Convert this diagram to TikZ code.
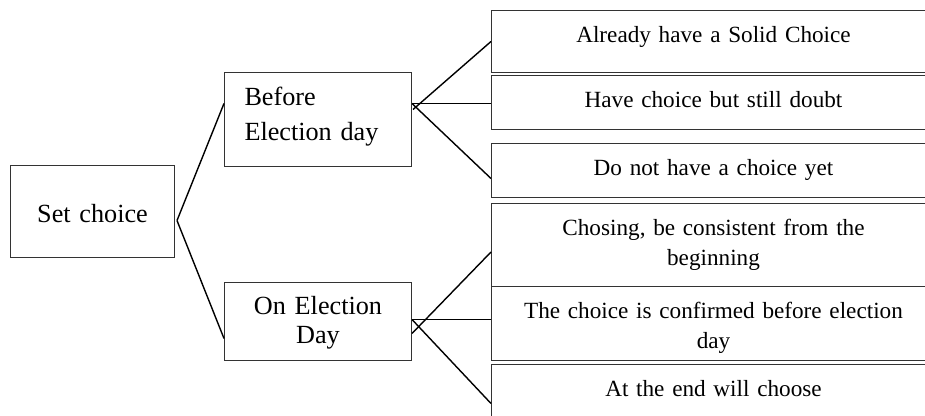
\documentclass[tikz,border=0pt]{standalone}
\usepackage{fontspec}
\setmainfont{Liberation Serif}
\usetikzlibrary{positioning, calc}

\begin{document}
\begin{tikzpicture}[
  x=0.5pt, y=-0.5pt,
  box/.style    = {draw=black!80, line width=0.5pt, inner sep=0pt,
                   anchor=north west},
  stage/.style  = {box, text width=93.5pt,
                   font=\fontsize{13.1}{17.5}\selectfont},
  choice/.style = {box, text width=222pt, align=center, text height=16pt,
                   font=\fontsize{11.6}{15}\selectfont},
  link/.style   = {line width=0.7pt, black},
]
\useasboundingbox (0,0) rectangle (925,416);
\clip (0,0) rectangle (925,416);

\node[box, text width=82pt, align=center, text height=28.5pt, text depth=17.5pt,
      font=\fontsize{13.1}{17.5}\selectfont] (setc) at (10,165) {Set choice};

\node[stage, align=left, inner xsep=10pt, text width=73.5pt,
      text height=16.5pt, text depth=30.5pt] (bef) at (224,72)
     {Before\\Election day};
\node[stage, align=center, text height=16pt, text depth=23pt,
      font=\fontsize{13.1}{14.5}\selectfont] (onday) at (224,282)
     {On Election\\Day};

\node[choice, text depth=15pt]   (r1) at (491,10)  {Already have a Solid Choice};
\node[choice, text depth=11pt]   (r2) at (491,75)  {Have choice but still doubt};
\node[choice, text depth=11pt]   (r3) at (491,143) {Do not have a choice yet};
\node[choice, text depth=25.5pt] (r4) at (491,203) {Chosing, be consistent from the\\beginning};
\node[choice, text depth=21pt]   (r5) at (491,286) {The choice is confirmed before election\\day};
\node[choice, text depth=22pt]   (r6) at (491,364) {At the end will choose};

\draw[link] ($(setc.east)+(2,9)$) -- ($(bef.west)+(0,-16)$);
\draw[link] ($(setc.east)+(2,9)$) -- ($(onday.west)+(0,17)$);

\draw[link] ($(bef.east)+(1,-10)$) -- (r1.west);
\draw[link] ($(bef.east)+(0,-16)$) -- ($(r2.west)+(0,1)$);
\draw[link] ($(bef.east)+(0,-16)$) -- ($(r3.west)+(0,8)$);

\draw[link] ($(onday.east)+(0,12)$) -- ($(r4.west)+(0,7)$);
\draw[link] ($(onday.east)+(0,-2)$) -- ($(r5.west)+(0,-4)$);
\draw[link] ($(onday.east)+(0,-2)$) -- ($(r6.west)+(0,1)$);

\end{tikzpicture}
\end{document}
